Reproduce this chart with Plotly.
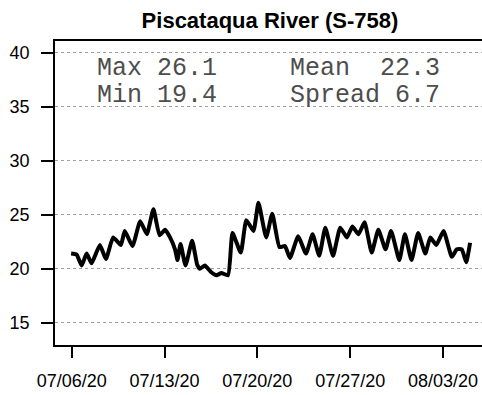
import plotly.graph_objects as go

# Water temperature record, Piscataqua River station S-758 (deg C)
times = [
    "2020-07-05 23:00", "2020-07-06 09:00", "2020-07-06 18:00", "2020-07-07 03:00",
    "2020-07-07 12:00", "2020-07-08 03:00", "2020-07-08 14:00", "2020-07-09 03:00",
    "2020-07-09 17:00", "2020-07-10 00:00", "2020-07-10 14:00", "2020-07-11 04:00",
    "2020-07-11 16:00", "2020-07-12 04:00", "2020-07-12 15:00", "2020-07-13 01:00",
    "2020-07-13 10:00", "2020-07-13 19:00", "2020-07-13 23:30", "2020-07-14 05:00",
    "2020-07-14 14:00", "2020-07-15 02:00", "2020-07-15 11:00", "2020-07-15 16:00",
    "2020-07-16 01:00", "2020-07-16 12:00", "2020-07-16 22:00", "2020-07-17 07:00",
    "2020-07-17 19:00", "2020-07-18 03:00", "2020-07-18 18:00", "2020-07-19 04:00",
    "2020-07-19 17:00", "2020-07-20 02:00", "2020-07-20 16:00", "2020-07-21 03:00",
    "2020-07-21 16:00", "2020-07-22 02:00", "2020-07-22 11:00", "2020-07-23 02:00",
    "2020-07-23 16:00", "2020-07-24 04:00", "2020-07-24 16:00", "2020-07-25 03:00",
    "2020-07-25 17:00", "2020-07-26 06:00", "2020-07-26 18:00", "2020-07-27 04:00",
    "2020-07-27 15:00", "2020-07-28 02:00", "2020-07-28 15:00", "2020-07-29 03:00",
    "2020-07-29 16:00", "2020-07-30 02:00", "2020-07-30 17:00", "2020-07-31 03:00",
    "2020-07-31 15:00", "2020-08-01 03:00", "2020-08-01 16:00", "2020-08-02 01:00",
    "2020-08-02 12:00", "2020-08-03 01:00", "2020-08-03 16:00", "2020-08-04 01:00",
    "2020-08-04 10:00", "2020-08-04 18:00", "2020-08-05 01:00",
]
temps = [
    21.4, 21.3, 20.3, 21.4,
    20.5, 22.2, 20.9, 22.9,
    22.2, 23.5, 22.1, 24.4,
    23.2, 25.5, 23.1, 23.6,
    22.9, 21.8, 20.8, 22.3,
    20.3, 22.6, 20.4, 20.0,
    20.3, 19.7, 19.4, 19.6,
    19.4, 23.3, 21.5, 24.5,
    23.5, 26.1, 22.9, 25.1,
    22.0, 22.1, 21.0, 23.0,
    21.4, 23.2, 21.2, 23.8,
    21.2, 23.8, 22.9, 23.9,
    23.2, 24.3, 21.5, 23.6,
    21.8, 23.5, 20.8, 23.2,
    20.8, 23.3, 21.4, 22.9,
    22.2, 23.5, 21.1, 21.8,
    21.8, 20.6, 22.4,
]

# Summary statistics printed in the panel
stat_labels = ["Max", "Min", "Mean", "Spread"]
stat_values = ["26.1", "19.4", "22.3", "6.7"]

# Axis ticks
x_tickvals = ["2020-07-06", "2020-07-13", "2020-07-20", "2020-07-27", "2020-08-03"]
x_ticktext = ["07/06/20", "07/13/20", "07/20/20", "07/27/20", "08/03/20"]
y_tickvals = [15, 20, 25, 30, 35, 40]

fig = go.Figure()
fig.add_trace(go.Scatter(
    x=times, y=temps, mode="lines",
    line=dict(color="black", width=4, shape="spline", smoothing=0.45),
    showlegend=False, hoverinfo="skip",
))

nb = "\u00a0"
def stat_text(label, value, width=10):
    pad = width - len(label) - len(value)
    return label + nb * pad + value

mono = dict(family="Liberation Mono, Courier New, monospace", size=25, color="#4d4d4d")
col_x = [0.0937, 0.0937, 0.5457, 0.5457]
row_y = [0.910, 0.821, 0.910, 0.821]
for lab, val, ax_, ay_ in zip(stat_labels, stat_values, col_x, row_y):
    w = 8 if lab in ("Max", "Min") else 10
    fig.add_annotation(
        text=stat_text(lab, val, w), xref="paper", yref="paper",
        x=ax_, y=ay_, xanchor="left", yanchor="middle",
        showarrow=False, font=mono,
    )

fig.update_layout(
    width=482, height=395,
    margin=dict(l=55, r=0, t=41, b=50),
    paper_bgcolor="white", plot_bgcolor="white",
    title=dict(
        text="<b>Piscataqua River (S-758)</b>",
        x=270 / 482, xanchor="center", y=1 - 20 / 395, yanchor="middle",
        font=dict(family="Liberation Sans, Arial, sans-serif", size=22, color="black"),
    ),
    font=dict(family="Liberation Sans, Arial, sans-serif", size=18, color="black"),
)

fig.update_xaxes(
    type="date",
    range=["2020-07-04 17:48", "2020-08-05 22:36"],
    tickvals=x_tickvals, ticktext=x_ticktext,
    ticks="outside", ticklen=11, tickwidth=1.5, tickcolor="black",
    ticklabelstandoff=8,
    showline=True, linecolor="black", linewidth=1.6, mirror=True,
    showgrid=False, zeroline=False,
)
fig.update_yaxes(
    range=[12.94, 41.08],
    tickvals=y_tickvals,
    ticks="outside", ticklen=12, tickwidth=1.5, tickcolor="black",
    ticklabelstandoff=8,
    showline=True, linecolor="black", linewidth=1.6, mirror=False,
    showgrid=True, gridcolor="#a0a0a0", gridwidth=1, griddash="dot",
    zeroline=False,
)

fig.write_html("out.html")
